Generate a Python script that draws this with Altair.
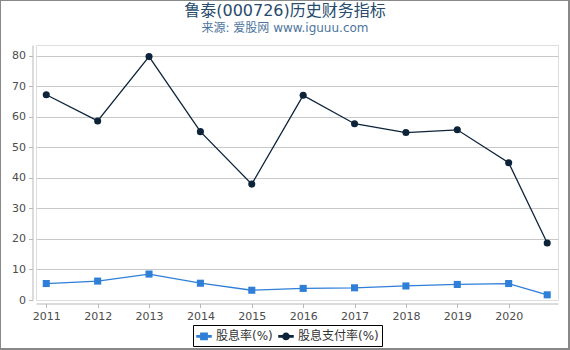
import altair as alt
import pandas as pd

# ---- data ----
periods = [2011, 2012, 2013, 2014, 2015, 2016, 2017, 2018, 2019, 2020, 2020.75]
div_yield = [5.4, 6.2, 8.5, 5.5, 3.2, 3.8, 4.0, 4.6, 5.1, 5.4, 1.7]      # 股息率(%)
payout = [67.3, 58.7, 79.8, 55.2, 38.0, 67.1, 57.8, 54.9, 55.8, 45.0, 18.7]  # 股息支付率(%)
series_names = ["股息率(%)", "股息支付率(%)"]
series_colors = ["#2f7ed8", "#0d233a"]
year_ticks = [2011, 2012, 2013, 2014, 2015, 2016, 2017, 2018, 2019, 2020]
y_ticks = [0, 10, 20, 30, 40, 50, 60, 70, 80]

rows = []
for p, v in zip(periods, div_yield):
    rows.append({"period": p, "value": v, "series": series_names[0]})
for p, v in zip(periods, payout):
    rows.append({"period": p, "value": v, "series": series_names[1]})
df = pd.DataFrame(rows)

FONT = 'DejaVu Sans, "Noto Sans CJK SC", sans-serif'
W, H = 522, 255
PL, PT = 36, 45

# legend glyphs: a thin filled bar (the line) plus the marker
sq_path = "M-1,-0.09H1V0.09H-1Z M-0.45,-0.45H0.45V0.45H-0.45Z"
ci_path = ("M-1,-0.09H1V0.09H-1Z M0.45,0A0.45,0.45,0,1,1,-0.45,0"
           "A0.45,0.45,0,1,1,0.45,0Z")

x_enc = alt.X(
    "period:Q",
    scale=alt.Scale(domain=[2010.8, 2020.96], nice=False, zero=False),
    axis=alt.Axis(
        values=year_ticks, format="d", title=None, grid=False, offset=3.5,
        domainColor="#b8b8b8", tickColor="#b8b8b8", tickSize=4,
        labelColor="#4d4d4d", labelFontSize=11, labelFont=FONT, labelPadding=3,
        labelFlush=False,
    ),
)
y_enc = alt.Y(
    "value:Q",
    scale=alt.Scale(domain=[0, 83.6], nice=False),
    axis=alt.Axis(
        values=y_ticks, title=None, offset=3.5,
        domainColor="#b8b8b8", tickColor="#b8b8b8", tickSize=4,
        gridColor="#c8c8c8", gridWidth=1,
        gridOpacity={"condition": {"test": "datum.value === 0", "value": 0}, "value": 1},
        labelColor="#4d4d4d", labelFontSize=11, labelFont=FONT, labelPadding=3,
    ),
)
color_scale = alt.Scale(domain=series_names, range=series_colors)

legend = alt.Legend(
    title=None, orient="none", direction="horizontal",
    legendX=157, legendY=280,
    strokeColor="#000000", fillColor="#ffffff", padding=3,
    symbolSize=196, symbolOpacity=1,
    labelFontSize=12, labelFont=FONT, labelColor="#333333",
    labelOffset=4, columnPadding=3,
)

base = alt.Chart(df).encode(x=x_enc, y=y_enc)
col = alt.Color("series:N", scale=color_scale, legend=legend)
lines = base.mark_line(strokeWidth=1.3).encode(color=col, detail="series:N")
pts_sq = base.transform_filter(
    alt.datum.series == series_names[0]
).mark_point(filled=True, opacity=1, size=50, shape="square").encode(color=col)
pts_ci = base.transform_filter(
    alt.datum.series == series_names[1]
).mark_point(filled=True, opacity=1, size=50, shape="circle").encode(color=col)
legend_layer = base.transform_filter("false").mark_point(filled=True).encode(
    color=col,
    shape=alt.Shape("series:N", scale=alt.Scale(domain=series_names, range=[sq_path, ci_path]), legend=legend),
)

frame = alt.Chart(pd.DataFrame({"k": [0]})).mark_rect(
    fillOpacity=0, stroke="#888888", strokeWidth=2
).encode(
    x=alt.value(-PL), x2=alt.value(569 - PL),
    y=alt.value(-PT), y2=alt.value(349 - PT),
)

chart = alt.layer(legend_layer, lines, pts_sq, pts_ci, frame).properties(
    width=W, height=H,
    padding={"left": PL, "top": PT, "right": 570 - PL - W, "bottom": 350 - PT - H},
    autosize=alt.AutoSizeParams(type="none"),
    title=alt.TitleParams(
        text="鲁泰(000726)历史财务指标",
        subtitle="来源: 爱股网 www.iguuu.com",
        fontSize=16, subtitleFontSize=12, font=FONT, subtitleFont=FONT,
        color="#274b6d", subtitleColor="#4d759e", fontWeight="normal",
        anchor="middle", dx=-12, offset=0, dy=35, subtitlePadding=4,
    ),
).configure_view(stroke=None).configure(background="#ffffff")

chart.save("out.html", embed_options={"renderer": "svg", "actions": False})
